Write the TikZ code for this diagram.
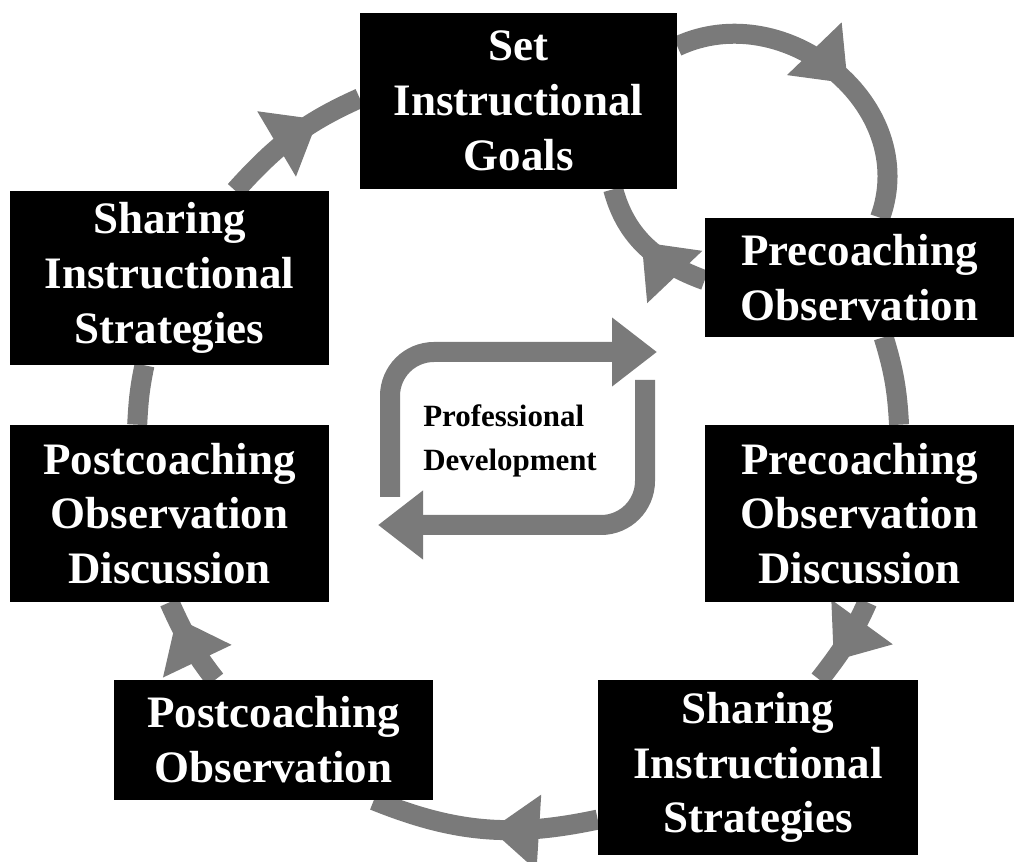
\documentclass[tikz,border=0pt]{standalone}
\usepackage{fontspec}
\setmainfont{Liberation Serif}
\usetikzlibrary{arrows.meta,decorations.markings}
\pgfdeclarelayer{background}
\pgfsetlayers{background,main}
\definecolor{ringgray}{RGB}{122,122,122}

\tikzset{
  stage/.style={fill=black, text=white, align=center, inner sep=0pt,
    font=\fontsize{32}{39}\selectfont\bfseries},
  ringline/.style={draw=ringgray, line width=0.5cm},
  ringtip/.style={postaction={decorate, decoration={markings,
    mark=at position #1 with {\fill[ringgray] (0,0) -- (-1.2,0.95) -- (-1.2,-0.95) -- cycle;}}}},
  pdline/.style={draw=ringgray, line width=0.5cm, rounded corners=1.1cm,
    -{Triangle[width=1.65cm,length=1.125cm]}},
}

\begin{document}
\begin{tikzpicture}
\useasboundingbox (0,0) rectangle (25.4,21.525);

\node[stage, minimum width=7.925cm, minimum height=4.4cm] (goals) at (12.9625,19.0) {Set\\Instructional\\Goals};
\node[stage, minimum width=7.725cm, minimum height=2.975cm] (preobs) at (21.4875,14.5875) {Precoaching\\Observation};
\node[stage, minimum width=7.725cm, minimum height=4.425cm] (predisc) at (21.4875,8.6875) {Precoaching\\Observation\\Discussion};
\node[stage, minimum width=8cm, minimum height=4.375cm] (shareR) at (18.95,2.3375) {Sharing\\Instructional\\Strategies};
\node[stage, minimum width=7.975cm, minimum height=3cm] (postobs) at (6.8375,3.025) {Postcoaching\\Observation};
\node[stage, minimum width=7.975cm, minimum height=4.425cm] (postdisc) at (4.2375,8.6875) {Postcoaching\\Observation\\Discussion};
\node[stage, minimum width=7.975cm, minimum height=4.35cm] (shareL) at (4.2375,14.575) {Sharing\\Instructional\\Strategies};

\node[align=left, inner sep=0pt, anchor=west, font=\fontsize{22}{31}\selectfont\bfseries] (pd) at (10.575,10.5) {Professional\\Development};

\coordinate (pdA) at (9.75,9.1);
\coordinate (pdB) at (16.425,12.725);
\coordinate (pdC) at (16.125,12.025);
\coordinate (pdD) at (9.45,8.4);

\begin{pgfonlayer}{background}
% the coaching cycle
\draw[ringline, ringtip=0.70] (shareL.53) to[out=48,in=204] (goals.179);
\draw[ringline, ringtip=0.56] (goals.19) to[out=25,in=70,looseness=1.15] (preobs.71);
\draw[ringline, ringtip=0.55] (preobs.181) to[out=160,in=-75] (goals.317);
\draw[ringline] (preobs.292) to[out=-73,in=93] (predisc.66);
\draw[ringline, ringtip=0.74] (predisc.275) to[out=-114,in=52] (shareR.55);
\draw[ringline, ringtip=0.47] (shareR.198) to[out=192,in=-22] (postobs.329);
\draw[ringline, ringtip=0.81] (postobs.134) to[out=128,in=-66] (postdisc.south);
\draw[ringline] (postdisc.110) to[out=87,in=-102] (shareL.254);
\end{pgfonlayer}

% professional development loop
\draw[pdline] (pdA) |- (pdB);
\draw[pdline] (pdC) |- (pdD);

\end{tikzpicture}
\end{document}
